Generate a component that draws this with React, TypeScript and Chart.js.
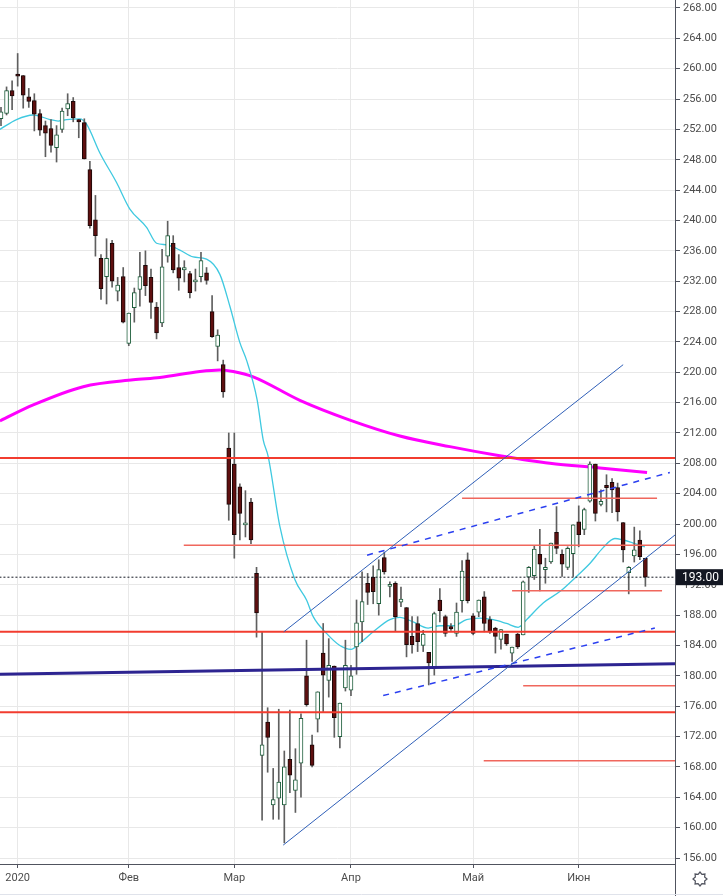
import { useEffect, useRef } from "react";
import { Chart, registerables, Plugin } from "chart.js";

Chart.register(...registerables);

// daily candles, index 0 = last days of 2019
const opens = [
  253.4, 254.1, 257.1, 259.3, 259.1, 256.3, 255.8, 254.1, 252.5, 252.1,
  249.6, 252.0, 254.7, 255.7, 253.3, 252.9, 246.7, 240.1, 235.0, 232.6,
  237.0, 230.7, 232.6, 223.8, 228.5, 230.9, 234.1, 232.5, 228.6, 226.5,
  235.3, 237.0, 233.8, 233.5, 233.0, 231.9, 232.6, 233.1, 228.0, 223.4,
  221.0, 210.0, 207.9, 204.9, 199.9, 202.9, 193.5, 169.5, 173.9, 163.0,
  163.9, 163.0, 169.0, 164.9, 168.5, 180.0, 170.9, 174.3, 183.0, 179.4,
  181.3, 172.0, 178.4, 178.1, 183.8, 187.1, 192.2, 193.0, 189.5, 195.6,
  191.8, 192.2, 189.7, 189.0, 185.2, 186.9, 184.0, 183.1, 181.1, 190.0,
  187.8, 186.5, 185.6, 189.9, 195.3, 187.9, 188.4, 190.4, 187.4, 186.3,
  184.8, 185.5, 183.0, 185.5, 185.4, 193.0, 193.2, 196.0, 194.0, 195.0,
  198.9, 196.0, 194.3, 196.1, 200.3, 199.3, 203.0, 207.9, 202.6, 205.1,
  205.5, 204.8, 200.2, 193.6, 195.8, 197.9, 195.5,
];
const highs = [
  254.9, 257.6, 258.4, 262.0, 259.1, 257.4, 256.7, 254.6, 253.1, 253.3,
  252.5, 254.8, 256.7, 256.2, 253.3, 253.4, 247.8, 243.3, 235.5, 237.6,
  237.4, 232.5, 233.8, 227.8, 231.1, 235.8, 236.0, 233.6, 229.2, 236.2,
  239.9, 238.0, 235.5, 234.7, 233.3, 233.6, 235.8, 233.8, 230.1, 225.6,
  221.6, 212.0, 212.0, 205.3, 204.4, 203.4, 194.3, 185.8, 175.8, 167.8,
  175.6, 170.1, 175.5, 170.4, 175.0, 184.7, 172.2, 177.9, 186.9, 184.9,
  181.3, 176.4, 184.7, 181.4, 190.0, 193.7, 193.5, 194.5, 195.3, 196.3,
  192.4, 192.4, 191.7, 189.0, 187.8, 187.8, 186.0, 183.1, 188.4, 191.5,
  188.0, 186.9, 189.6, 195.2, 196.2, 188.2, 190.0, 191.1, 187.8, 186.4,
  186.1, 185.5, 183.8, 185.6, 192.5, 194.4, 197.2, 199.3, 195.5, 197.5,
  202.3, 196.6, 197.0, 199.9, 202.4, 202.1, 208.2, 207.9, 204.5, 206.5,
  206.0, 205.4, 200.2, 194.4, 199.6, 199.1, 195.5,
];
const lows = [
  252.5, 253.9, 254.6, 257.7, 254.8, 254.9, 251.8, 251.2, 248.4, 249.0,
  247.7, 251.6, 253.8, 253.0, 250.9, 248.1, 239.0, 235.3, 229.6, 229.0,
  231.2, 229.4, 226.5, 223.5, 226.6, 228.7, 230.1, 227.1, 224.4, 226.0,
  234.5, 233.1, 230.8, 231.9, 229.8, 230.7, 231.9, 231.6, 224.6, 221.5,
  216.7, 200.5, 195.5, 197.9, 198.3, 197.4, 185.1, 161.0, 167.3, 161.1,
  161.1, 158.0, 164.6, 162.0, 164.0, 176.0, 168.0, 172.6, 175.3, 177.2,
  171.9, 170.5, 178.0, 177.4, 180.2, 184.5, 189.4, 189.5, 188.0, 193.4,
  190.4, 185.9, 189.1, 182.5, 183.0, 183.2, 183.2, 178.8, 180.1, 187.1,
  185.2, 186.0, 185.2, 188.4, 189.6, 185.4, 187.8, 185.8, 185.6, 183.0,
  183.5, 184.0, 181.9, 183.6, 185.4, 191.0, 192.7, 191.2, 192.2, 194.8,
  196.1, 193.1, 194.0, 193.1, 197.0, 198.6, 202.9, 200.4, 202.4, 201.6,
  201.5, 200.4, 195.0, 190.8, 195.0, 195.3, 191.8,
];
const closes = [
  254.3, 257.1, 256.4, 259.0, 256.5, 255.7, 254.0, 251.9, 251.5, 249.9,
  251.3, 254.4, 255.4, 253.5, 253.0, 248.1, 239.3, 238.0, 231.0, 235.0,
  232.0, 231.5, 226.6, 227.8, 230.5, 232.6, 231.4, 229.2, 225.2, 233.9,
  238.0, 233.5, 232.4, 233.8, 230.5, 232.0, 234.7, 232.1, 224.7, 224.9,
  217.4, 202.6, 198.6, 201.4, 200.1, 197.9, 188.3, 170.9, 171.9, 163.7,
  166.0, 168.0, 166.9, 166.3, 174.4, 176.2, 168.2, 177.9, 180.1, 181.4,
  174.5, 176.4, 181.4, 180.0, 187.0, 189.8, 191.0, 191.1, 194.0, 193.7,
  191.9, 187.8, 190.1, 184.1, 184.1, 184.5, 185.5, 181.7, 188.2, 188.6,
  185.6, 186.2, 188.4, 193.8, 189.9, 185.6, 190.0, 186.9, 185.8, 185.2,
  186.1, 184.2, 183.8, 183.8, 192.4, 194.3, 196.7, 194.7, 194.3, 197.5,
  196.8, 194.7, 196.8, 199.9, 198.6, 201.9, 207.9, 201.4, 203.0, 204.8,
  204.5, 201.6, 196.6, 194.3, 196.6, 195.7, 193.0,
];

const monthTicks = [3, 23, 42, 63, 85, 104];
const monthLabels = ["2020", "Фев", "Мар", "Апр", "Май", "Июн"];
const priceTicks = [
  156, 160, 164, 168, 172, 176, 180, 184, 188, 192, 196, 200, 204, 208,
  212, 216, 220, 224, 228, 232, 236, 240, 244, 248, 252, 256, 260, 264, 268,
];

// short moving average (cyan)
const fastMaX = [
  -0.2, 2.8, 5.8, 8.8, 10.3, 11.8, 14.2, 15.4, 17.8, 20.8, 23.2, 26.2, 28.0,
  29.8, 32.2, 34.6, 37.0, 39.4, 41.2, 43.0, 44.2, 46.1, 47.2, 48.1, 50.2,
  52.9, 55.0, 56.2, 58.6, 61.0, 63.0, 64.6, 67.0, 70.0, 71.8, 74.2, 76.9,
  79.0, 81.4, 83.8, 86.2, 88.6, 91.0, 93.1, 94.6, 97.6, 100.6, 103.6, 106.0,
  108.4, 110.5, 112.0, 113.8, 115.9,
];
const fastMaY = [
  252.0, 253.3, 253.9, 253.3, 253.1, 253.3, 253.4, 252.7, 248.9, 245.0,
  241.5, 239.1, 237.0, 236.8, 236.1, 235.2, 234.9, 232.9, 228.7, 223.9,
  221.6, 216.4, 211.1, 208.9, 199.7, 192.7, 190.0, 187.8, 185.6, 184.0,
  183.5, 184.3, 185.8, 187.4, 187.7, 187.1, 186.3, 186.6, 186.6, 187.4,
  187.6, 187.4, 186.9, 186.4, 187.4, 189.6, 191.1, 193.1, 194.8, 196.9,
  198.1, 197.9, 197.5, 197.0,
];
// long moving average (magenta)
const slowMaX = [
  -0.2, 5.8, 14.8, 23.8, 28.6, 35.8, 39.4, 41.8, 45.4, 53.8, 62.8, 71.8,
  80.8, 89.8, 98.8, 107.8, 116.3,
];
const slowMaY = [
  213.6, 215.7, 218.1, 219.0, 219.3, 220.1, 220.3, 220.1, 219.4, 216.3,
  213.7, 211.6, 210.2, 209.0, 208.0, 207.4, 206.8,
];

const strongLevels = [208.7, 185.8, 175.2];
const weakLevels = [197.2, 203.4, 191.2, 178.7, 168.8];
const weakStarts = [32.9, 83.0, 92.0, 94.0, 86.9];
const weakEnds = [122, 118.1, 119.0, 122, 122];
// [x1, y1, x2, y2] in candle index / price
const channelLines = [
  [50.9, 185.8, 112.0, 221.0],
  [50.8, 157.7, 121.4, 198.6],
];
const dashedLines = [
  [65.9, 195.9, 120.4, 206.8],
  [68.8, 177.4, 117.7, 186.3],
];
const baseLine = [-0.3, 180.2, 121.5, 181.6];
const lastPrice = 193.0;

const X_MIN = -0.18;
const X_MAX = 121.33;

const seg = (l: number[]) => [
  { x: l[0], y: l[1] },
  { x: l[2], y: l[3] },
];

const lineSet = (data: any[], color: string, width: number, order: number, extra: any = {}) => ({
  type: "line" as const,
  data,
  borderColor: color,
  borderWidth: width,
  pointRadius: 0,
  fill: false,
  tension: 0,
  order,
  ...extra,
});

const decorPlugin: Plugin = {
  id: "decor",
  afterDraw(chart) {
    const { ctx, chartArea, scales } = chart;
    const right = chartArea.right;
    ctx.save();
    ctx.strokeStyle = "#50535e";
    ctx.lineWidth = 1;
    ctx.beginPath();
    ctx.moveTo(Math.round(right) + 0.5, 0);
    ctx.lineTo(Math.round(right) + 0.5, chart.height);
    ctx.stroke();

    ctx.strokeStyle = "#e0e3eb";
    ctx.beginPath();
    ctx.moveTo(0, chart.height - 1.5);
    ctx.lineTo(chart.width, chart.height - 1.5);
    ctx.stroke();

    const py = scales.y.getPixelForValue(lastPrice);
    ctx.fillStyle = "#131722";
    ctx.fillRect(right + 1, py - 8, chart.width - right - 1, 16);
    ctx.fillStyle = "#ffffff";
    ctx.font = "12px Roboto";
    ctx.textBaseline = "middle";
    ctx.fillText(lastPrice.toFixed(2), right + 7, py + 0.5);

    // settings gear
    const cx = 700;
    const cy = 879;
    ctx.strokeStyle = "#50535e";
    ctx.lineWidth = 1.2;
    ctx.beginPath();
    for (let k = 0; k < 16; k++) {
      const a = (k / 16) * Math.PI * 2;
      const r = k % 2 === 0 ? 7 : 5;
      const px = cx + r * Math.cos(a);
      const pyy = cy + r * Math.sin(a);
      if (k === 0) ctx.moveTo(px, pyy);
      else ctx.lineTo(px, pyy);
    }
    ctx.closePath();
    ctx.stroke();
    ctx.restore();
  },
};

export default function App() {
  const canvasRef = useRef<HTMLCanvasElement>(null);

  useEffect(() => {
    document.body.style.margin = "0";
    const canvas = canvasRef.current;
    if (!canvas) return;

    const idx = opens.map((_, i) => i);
    const up = idx.map((i) => closes[i] >= opens[i]);

    const datasets: any[] = [
      {
        type: "bar",
        data: idx.map((i) => ({ x: i, y: [lows[i], highs[i]] })),
        backgroundColor: "#5f5f5f",
        barThickness: 1,
        grouped: false,
        minBarLength: 1,
        order: 20,
      },
      {
        type: "bar",
        data: idx.map((i) => ({
          x: i,
          y: [Math.min(opens[i], closes[i]), Math.max(opens[i], closes[i])],
        })),
        backgroundColor: up.map((u) => (u ? "#ffffff" : "#5e0f0f")),
        borderColor: up.map((u) => (u ? "#1e5e3c" : "#1a0808")),
        borderWidth: 1,
        borderSkipped: false,
        barThickness: 4,
        grouped: false,
        minBarLength: 2,
        order: 19,
      },
      lineSet(fastMaX.map((x, i) => ({ x, y: fastMaY[i] })), "#3fc9e0", 1.3, 30, {
        tension: 0.4,
        cubicInterpolationMode: "monotone",
      }),
      lineSet(slowMaX.map((x, i) => ({ x, y: slowMaY[i] })), "#ff00ff", 3, 31, {
        tension: 0.4,
        cubicInterpolationMode: "monotone",
      }),
      lineSet(seg([-1, lastPrice, 122, lastPrice]), "#131722", 1, 10, { borderDash: [2, 2] }),
      lineSet(seg(baseLine), "#2d2491", 3, 5),
      ...strongLevels.map((v) => lineSet(seg([-1, v, 122, v]), "#f23c2f", 2, 4)),
      ...weakLevels.map((v, i) =>
        lineSet(seg([weakStarts[i], v, weakEnds[i], v]), "#f0675d", 1.5, 4)
      ),
      ...channelLines.map((l) => lineSet(seg(l), "#2f5fb8", 1, 3)),
      ...dashedLines.map((l) => lineSet(seg(l), "#2a3ff0", 1.5, 3, { borderDash: [6, 6] })),
    ];

    const axisFont = { family: "Roboto", size: 11 };

    const chart = new Chart(canvas, {
      type: "bar",
      data: { datasets },
      plugins: [decorPlugin],
      options: {
        animation: false,
        responsive: false,
        events: [],
        layout: { padding: 0 },
        plugins: { legend: { display: false }, tooltip: { enabled: false } },
        scales: {
          x: {
            type: "linear",
            min: X_MIN,
            max: X_MAX,
            offset: false,
            afterBuildTicks: (scale: any) => {
              scale.ticks = monthTicks.map((v) => ({ value: v }));
            },
            afterFit: (scale: any) => {
              scale.height = 32;
              scale.paddingLeft = 0;
              scale.paddingRight = 0;
            },
            ticks: {
              autoSkip: false,
              maxRotation: 0,
              padding: 4,
              color: "#4c4c4c",
              font: axisFont,
              callback: (v: any) => {
                const k = monthTicks.indexOf(Number(v));
                return k >= 0 ? monthLabels[k] : "";
              },
            },
            grid: {
              offset: false,
              color: "#e8e8e8",
              tickColor: "#50535e",
              tickLength: 4,
            },
            border: { display: true, color: "#50535e" },
          },
          y: {
            type: "linear",
            position: "right",
            min: 155.21,
            max: 269.05,
            afterBuildTicks: (scale: any) => {
              scale.ticks = priceTicks.map((v) => ({ value: v }));
            },
            afterFit: (scale: any) => {
              scale.width = 48;
              scale.paddingTop = 0;
              scale.paddingBottom = 0;
            },
            ticks: {
              padding: 3,
              color: "#4c4c4c",
              font: axisFont,
              callback: (v: any) => Number(v).toFixed(2),
            },
            grid: {
              color: "#e8e8e8",
              tickColor: "#50535e",
              tickLength: 5,
            },
            border: { display: false },
          },
        },
      },
    });

    return () => {
      chart.destroy();
    };
  }, []);

  return (
    <div style={{ width: 723, height: 896, background: "#ffffff" }}>
      <canvas ref={canvasRef} width={723} height={896} style={{ display: "block" }} />
    </div>
  );
}
